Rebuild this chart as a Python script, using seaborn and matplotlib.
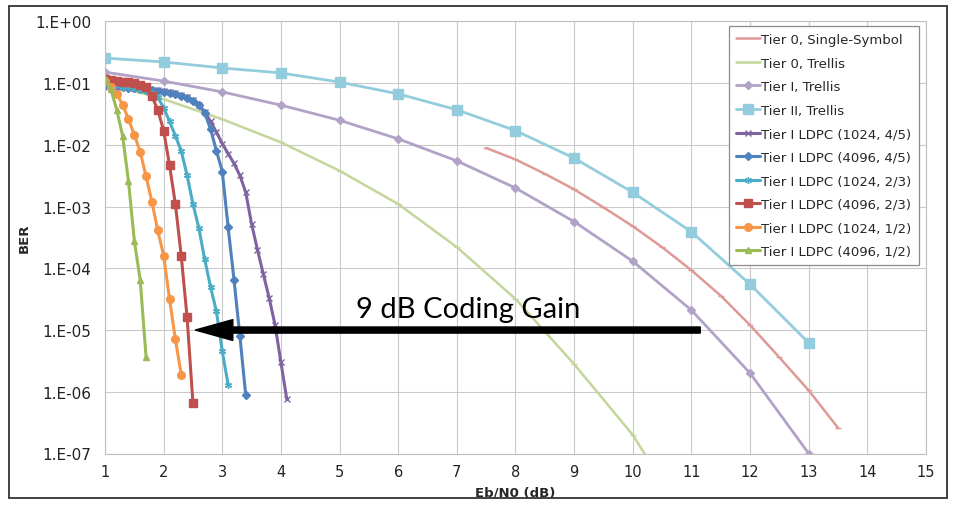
import numpy as np
import matplotlib
matplotlib.use("Agg")
import matplotlib.pyplot as plt
import seaborn as sns
from matplotlib.patches import Rectangle
from matplotlib.ticker import FixedLocator, FuncFormatter, NullLocator

# ---------------- data ----------------
x_t0ss = [7.5, 8.0, 8.5, 9.0, 9.5, 10.0, 10.5, 11.0, 11.5, 12.0, 12.5, 13.0, 13.5]
ber_t0ss = [0.0089, 0.0058, 0.0034, 0.0019, 0.00097, 0.00048, 0.00022,
            9.3e-5, 3.6e-5, 1.2e-5, 3.6e-6, 1.05e-6, 2.6e-7]

x_t0tr = [1, 2, 3, 4, 5, 6, 7, 8, 9, 10, 11]
ber_t0tr = [0.1, 0.055, 0.026, 0.011, 0.0038, 0.0011, 2.2e-4, 3.2e-5, 2.8e-6, 2e-7, 6e-9]

x_t1tr = [1, 2, 3, 4, 5, 6, 7, 8, 9, 10, 11, 12, 13]
ber_t1tr = [0.151, 0.108, 0.072, 0.044, 0.025, 0.0125, 0.0055, 0.002,
            5.7e-4, 1.3e-4, 2.1e-5, 2e-6, 1e-7]

x_t2tr = [1, 2, 3, 4, 5, 6, 7, 8, 9, 10, 11, 12, 13]
ber_t2tr = [0.255, 0.22, 0.176, 0.146, 0.104, 0.067, 0.037, 0.017,
            0.0061, 0.0017, 3.9e-4, 5.5e-5, 6.2e-6]

x_l1024_45 = [1.0, 1.1, 1.2, 1.3, 1.4, 1.5, 1.6, 1.7, 1.8, 1.9, 2.0, 2.1, 2.2, 2.3, 2.4, 2.5,
              2.6, 2.7, 2.8, 2.9, 3.0, 3.1, 3.2, 3.3, 3.4, 3.5, 3.6, 3.7, 3.8, 3.9, 4.0, 4.1]
ber_l1024_45 = [0.093, 0.091, 0.089, 0.087, 0.085, 0.084, 0.082, 0.080, 0.078, 0.076, 0.074,
                0.071, 0.068, 0.065, 0.060, 0.053, 0.045, 0.034, 0.024, 0.016, 0.0105,
                0.0072, 0.005, 0.0032, 0.0017, 5.2e-4, 2e-4, 8e-5, 3.3e-5, 1.2e-5, 3e-6, 7.6e-7]

x_l4096_45 = [1.0, 1.1, 1.2, 1.3, 1.4, 1.5, 1.6, 1.7, 1.8, 1.9, 2.0, 2.1, 2.2, 2.3, 2.4, 2.5,
              2.6, 2.7, 2.8, 2.9, 3.0, 3.1, 3.2, 3.3, 3.4]
ber_l4096_45 = [0.091, 0.089, 0.087, 0.085, 0.083, 0.082, 0.080, 0.078, 0.076, 0.074, 0.072,
                0.069, 0.066, 0.063, 0.058, 0.051, 0.044, 0.033, 0.018, 0.008, 0.0037,
                4.6e-4, 6.5e-5, 8e-6, 8.8e-7]

x_l1024_23 = [1.0, 1.1, 1.2, 1.3, 1.4, 1.5, 1.6, 1.7, 1.8, 1.9, 2.0, 2.1, 2.2, 2.3, 2.4, 2.5,
              2.6, 2.7, 2.8, 2.9, 3.0, 3.1]
ber_l1024_23 = [0.1, 0.096, 0.092, 0.088, 0.085, 0.082, 0.078, 0.074, 0.07, 0.059, 0.04,
                0.024, 0.014, 0.008, 0.0032, 0.0011, 4.5e-4, 1.4e-4, 5e-5, 2e-5, 4.5e-6, 1.3e-6]

x_l4096_23 = [1.0, 1.1, 1.2, 1.3, 1.4, 1.5, 1.6, 1.7, 1.8, 1.9, 2.0, 2.1, 2.2, 2.3, 2.4, 2.5]
ber_l4096_23 = [0.116, 0.112, 0.109, 0.106, 0.103, 0.099, 0.094, 0.087, 0.061, 0.037, 0.017,
                0.0047, 0.0011, 1.6e-4, 1.6e-5, 6.5e-7]

x_l1024_12 = [1.0, 1.1, 1.2, 1.3, 1.4, 1.5, 1.6, 1.7, 1.8, 1.9, 2.0, 2.1, 2.2, 2.3]
ber_l1024_12 = [0.11, 0.086, 0.066, 0.045, 0.026, 0.0146, 0.0077, 0.0031, 0.0012,
                4.1e-4, 1.6e-4, 3.2e-5, 7.1e-6, 1.9e-6]

x_l4096_12 = [1.0, 1.1, 1.2, 1.3, 1.4, 1.5, 1.6, 1.7]
ber_l4096_12 = [0.116, 0.08, 0.037, 0.014, 0.0026, 2.8e-4, 6.5e-5, 3.7e-6]

x_ticks = list(range(1, 16))
y_ticks = [1e0, 1e-1, 1e-2, 1e-3, 1e-4, 1e-5, 1e-6, 1e-7]

# ---------------- style ----------------
sns.set_theme(style="white")
plt.rcParams['font.family'] = ['DejaVu Sans']

fig = plt.figure(figsize=(9.59, 5.06), dpi=100)
ax = fig.add_axes([105 / 959, 1 - 454.5 / 506, (926 - 105) / 959, (454.5 - 22.4) / 506])

series = [
    ("Tier 0, Single-Symbol", x_t0ss, ber_t0ss, "#DE9A96", "_", 4, 1.8),
    ("Tier 0, Trellis", x_t0tr, ber_t0tr, "#C3D69B", "_", 4, 1.8),
    ("Tier I, Trellis", x_t1tr, ber_t1tr, "#B3A2C7", "D", 4.5, 2.0),
    ("Tier II, Trellis", x_t2tr, ber_t2tr, "#93CDDD", "s", 6.5, 2.0),
    ("Tier I LDPC (1024, 4/5)", x_l1024_45, ber_l1024_45, "#7F63A1", "x", 4, 2.2),
    ("Tier I LDPC (4096, 4/5)", x_l4096_45, ber_l4096_45, "#4F81BD", "D", 4.5, 2.2),
    ("Tier I LDPC (1024, 2/3)", x_l1024_23, ber_l1024_23, "#4BACC6", (6, 2, 0), 5, 2.2),
    ("Tier I LDPC (4096, 2/3)", x_l4096_23, ber_l4096_23, "#C0504D", "s", 5.5, 2.2),
    ("Tier I LDPC (1024, 1/2)", x_l1024_12, ber_l1024_12, "#F79646", "o", 5.5, 2.2),
    ("Tier I LDPC (4096, 1/2)", x_l4096_12, ber_l4096_12, "#9BBB59", "^", 5, 2.2),
]

for name, xs, ys, col, mk, ms, lw in series:
    sns.lineplot(x=xs, y=ys, ax=ax, color=col, marker=mk, markersize=ms,
                 markeredgecolor=col, markeredgewidth=1.0, linewidth=lw,
                 label=name, estimator=None, sort=False)

ax.set_yscale("log")
ax.set_xlim(1, 15)
ax.set_ylim(1e-7, 1)
ax.xaxis.set_major_locator(FixedLocator(x_ticks))
ax.yaxis.set_major_locator(FixedLocator(y_ticks))
ax.yaxis.set_minor_locator(NullLocator())
ax.yaxis.set_major_formatter(FuncFormatter(
    lambda v, p: "1.E{:+03d}".format(int(round(np.log10(v))))))
ax.grid(True, color="#C9C9C9", linewidth=0.8)
for s in ax.spines.values():
    s.set_color("#BFBFBF")
    s.set_linewidth(0.8)
ax.tick_params(axis="both", which="major", direction="out", length=4,
               color="#A6A6A6", labelsize=10.5, labelcolor="#222222")
ax.tick_params(axis="y", pad=6, labelsize=11)

ax.set_xlabel("Eb/N0 (dB)", fontsize=9.5, fontweight="bold", labelpad=5)
ax.set_ylabel("BER", fontsize=9.5, fontweight="bold", labelpad=3)

# coding gain arrow + label
ax.annotate("", xy=(2.54, 1e-5), xytext=(11.15, 1e-5),
            arrowprops=dict(arrowstyle="simple,head_length=1.35,head_width=0.75,tail_width=0.22",
                            color="black", mutation_scale=20, shrinkA=0, shrinkB=0))
ax.text(7.2, 2.2e-5, "9 dB Coding Gain", fontsize=21, ha="center", va="center",
        family=["Lato", "DejaVu Sans"], color="black")

leg = ax.legend(loc="upper right", bbox_to_anchor=(0.991, 0.99), borderaxespad=0,
                fontsize=9.5, frameon=True, fancybox=False, framealpha=1,
                edgecolor="#8C8C8C", handlelength=1.8, handletextpad=0.1,
                labelspacing=0.8, borderpad=0.55)
leg.get_frame().set_linewidth(0.9)

fig.patches.append(Rectangle((9 / 959, 1 - 499 / 506), (947 - 9) / 959, (499 - 7) / 506,
                             transform=fig.transFigure, fill=False,
                             edgecolor="#333333", linewidth=1.3))

fig.savefig("out.png", dpi=100)
